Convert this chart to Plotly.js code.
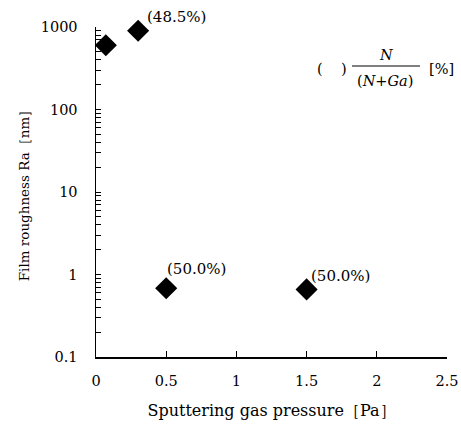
<!DOCTYPE html>
<html><head><meta charset="utf-8">
<script src="https://cdn.plot.ly/plotly-3.0.1.min.js"></script>
<style>body{margin:0;background:#fff}#c{width:461px;height:429px}</style>
</head><body><div id="c"></div>
<script>
const pressure = [0.07, 0.3, 0.5, 1.5];
const roughness = [600, 900, 0.68, 0.66];
const ratioLabels = ["", "(48.5%)", "(50.0%)", "(50.0%)"];
const yMajor = [0.1, 1, 10, 100, 1000];
const xTicks = [0, 0.5, 1, 1.5, 2, 2.5];

const ytv = [], ytt = [];
for (let d = -1; d <= 3; d++) {
  for (let m = 1; m <= 9; m++) {
    if (d === 3 && m > 1) break;
    const v = m * Math.pow(10, d);
    ytv.push(v);
    ytt.push(m === 1 ? String(yMajor[d + 1]) : "");
  }
}
const F = "DejaVu Serif, Liberation Serif, serif";
const FS = 14.5;
const ann = [];
const offs = [null, {xanchor:'left', yanchor:'middle', ax:7, ay:-14}, {xanchor:'left', yanchor:'bottom', ax:-1, ay:-8}, {xanchor:'left', yanchor:'bottom', ax:2, ay:-2}];
pressure.forEach((p, i) => {
  if (!ratioLabels[i]) return;
  ann.push({x:p, y:Math.log10(roughness[i]), xref:'x', yref:'y', text:ratioLabels[i], showarrow:false,
    xanchor:offs[i].xanchor, yanchor:offs[i].yanchor, xshift:offs[i].ax, yshift:-offs[i].ay,
    font:{family:F, size:15, color:'#000'}});
});
const px = v => (v - 96) / (447 - 96);
const py = v => (357 - v) / (357 - 27);
function fa(x, y, t) {
  ann.push({x:px(x), y:py(y), xref:'paper', yref:'paper', text:t, showarrow:false,
    xanchor:'center', yanchor:'middle', font:{family:F,size:FS,color:'#000'}});
}
fa(320, 69, '(');
fa(344, 69, ')');
fa(386, 55, '<i>N</i>');
fa(385, 81, '(<i>N</i>+<i>Ga</i>)');
fa(441, 69, '[%]');

Plotly.newPlot('c', [{
  x: pressure, y: roughness, type:'scatter', mode:'markers',
  marker:{symbol:'diamond', size:17, color:'#000'}, cliponaxis:false, hoverinfo:'none'
}], {
  width:461, height:429, paper_bgcolor:'#fff', plot_bgcolor:'#fff',
  margin:{l:96, r:14, t:27, b:72}, showlegend:false,
  font:{family:F, size:FS, color:'#000'},
  xaxis:{range:[0,2.5], tickvals:xTicks, ticktext:xTicks.map(String), ticks:'inside', ticklen:6, tickcolor:'#000',
    ticklabelstandoff:10,
    showline:true, linecolor:'#000', linewidth:1.5, mirror:false, showgrid:false, zeroline:false,
    title:{text:'Sputtering gas pressure［Pa］', standoff:17, font:{family:F,size:16}}, tickfont:{family:F,size:FS}},
  yaxis:{type:'log', range:[-1,3], tickvals:ytv, ticktext:ytt, ticks:'inside', ticklen:5, tickcolor:'#000',
    ticklabelstandoff:14,
    showline:true, linecolor:'#000', linewidth:1.5, showgrid:false, zeroline:false,
    title:{text:'Film roughness Ra［nm］', standoff:8, font:{family:F,size:13.5}}, tickfont:{family:F,size:FS}},
  shapes:[{type:'line', xref:'paper', yref:'paper', x0:px(352), x1:px(420), y0:py(66), y1:py(66), line:{color:'#000', width:1}}],
  annotations: ann
}, {staticPlot:true});
</script></body></html>
